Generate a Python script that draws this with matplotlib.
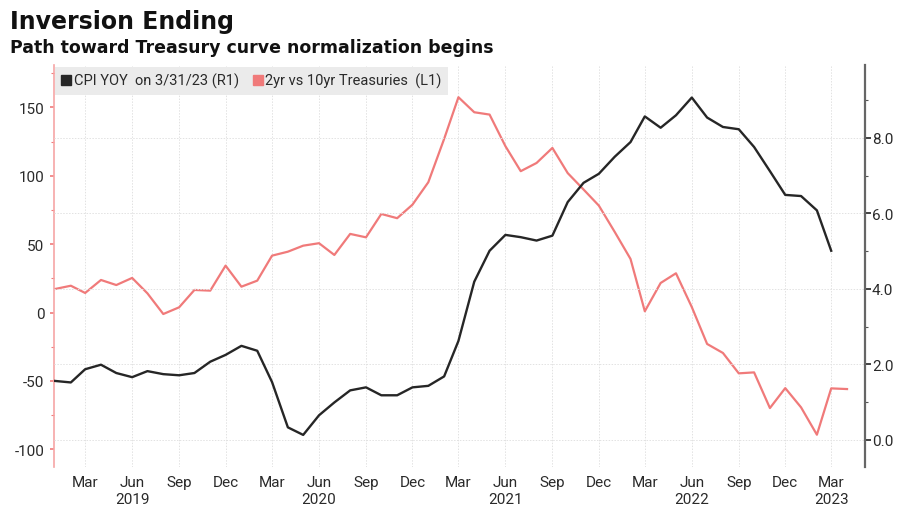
import pandas as pd
import matplotlib.pyplot as plt
from matplotlib.lines import Line2D
from matplotlib.ticker import MultipleLocator

plt.rcParams['axes.unicode_minus'] = False

# CPI YoY (%), monthly Jan 2019 - Mar 2023 (right axis)
cpi_yoy = [1.56, 1.52, 1.87, 1.99, 1.77, 1.66, 1.82, 1.74, 1.71, 1.77, 2.07, 2.25,
           2.49, 2.36, 1.53, 0.33, 0.13, 0.65, 0.99, 1.31, 1.39, 1.18, 1.18, 1.39,
           1.43, 1.68, 2.62, 4.19, 5.01, 5.43, 5.37, 5.28, 5.41, 6.30, 6.81, 7.05,
           7.50, 7.89, 8.57, 8.27, 8.60, 9.07, 8.54, 8.29, 8.23, 7.76, 7.12, 6.49,
           6.46, 6.08, 5.01]

# 2yr vs 10yr Treasuries spread (bp), monthly Jan 2019 - Apr 2023 (left axis)
spread_2s10s = [17.2, 19.6, 14.3, 23.8, 20.1, 25.3, 14.0, -1.1, 3.8, 16.5, 16.0, 34.3,
                18.9, 23.3, 41.6, 44.5, 48.9, 50.7, 42.1, 57.5, 55.0, 72.1, 69.0, 78.9,
                95.3, 127.0, 157.5, 146.5, 144.8, 121.7, 103.4, 109.4, 120.4, 102.0, 90.0, 78.2,
                59.0, 39.2, 0.9, 21.6, 28.7, 4.0, -23.0, -29.6, -44.5, -43.8, -69.9, -55.3,
                -69.4, -89.4, -55.5, -56.0]

left_ticks = [-100, -50, 0, 50, 100, 150]
right_ticks = [0, 2, 4, 6, 8]
legend_labels = ['CPI YOY  on 3/31/23 (R1)', '2yr vs 10yr Treasuries  (L1)']

red = '#f07a7a'
black = '#262626'
text_col = '#2a2a2a'
grid_col = '#e2e2e2'
font = 'Roboto'

months = pd.date_range('2019-01-01', periods=len(spread_2s10s), freq='MS')

fig = plt.figure(figsize=(9, 5.1), dpi=100)
ax = fig.add_axes([0.06, 0.0824, 0.901, 0.788])
ax2 = ax.twinx()

ax.plot(months, spread_2s10s, color=red, lw=1.6)
ax2.plot(months[:len(cpi_yoy)], cpi_yoy, color=black, lw=1.7)

ax.set_xlim(pd.Timestamp('2018-12-30'), pd.Timestamp('2023-05-06'))
ax.set_ylim(-113, 181)
ax2.set_ylim(-0.72, 9.93)

# x ticks: quarterly months, year under Jun (and Mar for 2023)
xticks = pd.date_range('2019-03-01', '2023-03-01', freq='3MS')
xlabels = []
for d in xticks:
    lab = d.strftime('%b')
    if d.month == 6 or (d.year == 2023 and d.month == 3):
        lab += '\n' + str(d.year)
    xlabels.append(lab)
ax.set_xticks(xticks)
ax.set_xticklabels(xlabels, fontsize=11, color=text_col, family=font, linespacing=1.25)
ax.tick_params(axis='x', length=0, pad=6)

ax.set_yticks(left_ticks)
ax.set_yticklabels([str(v) for v in left_ticks], fontsize=11, color=text_col, family=font)
ax.yaxis.set_minor_locator(MultipleLocator(25))
ax.tick_params(axis='y', which='major', color=red, length=3, width=1.2, pad=4)
ax.tick_params(axis='y', which='minor', color=red, length=2, width=0.8)

ax2.set_yticks(right_ticks)
ax2.set_yticklabels(['%.1f' % v for v in right_ticks], fontsize=11, color=text_col, family=font)
ax2.yaxis.set_minor_locator(MultipleLocator(1))
ax2.tick_params(axis='y', which='major', color='#222222', length=4, width=1.2, pad=1)
ax2.tick_params(axis='y', which='minor', color='#555555', length=2, width=0.8)

# grid
ax.grid(axis='x', color=grid_col, lw=0.7, ls=(0, (1.5, 1.5)))
ax2.grid(axis='y', color=grid_col, lw=0.7, ls=(0, (1.5, 1.5)))
ax.set_axisbelow(True)

for s in ['top', 'bottom', 'right']:
    ax.spines[s].set_visible(False)
ax.spines['left'].set_color('#f6a5a5')
ax.spines['left'].set_linewidth(1.2)
for s in ['top', 'bottom', 'left']:
    ax2.spines[s].set_visible(False)
ax2.spines['right'].set_color('#666666')
ax2.spines['right'].set_linewidth(1.6)

handles = [Line2D([], [], marker='s', ls='none', color=black, markersize=6.5),
           Line2D([], [], marker='s', ls='none', color=red, markersize=6.5)]
leg = ax2.legend(handles, legend_labels, loc='upper left', bbox_to_anchor=(0, 1),
                 ncol=2, frameon=True, fancybox=False, facecolor='#ebebeb',
                 edgecolor='none', framealpha=1, borderaxespad=0.1,
                 handlelength=0.6, handletextpad=0.2, columnspacing=1.0,
                 borderpad=0.45, prop={'family': font, 'size': 10.5})
for t in leg.get_texts():
    t.set_color(text_col)

fig.text(0.011, 0.943, 'Inversion Ending', fontsize=17, fontweight='bold',
         family='DejaVu Sans', va='baseline', color='#111111')
fig.text(0.011, 0.896, 'Path toward Treasury curve normalization begins', fontsize=12.5,
         fontweight='bold', family='DejaVu Sans', va='baseline', color='#111111')

fig.savefig('out.png', dpi=100)
